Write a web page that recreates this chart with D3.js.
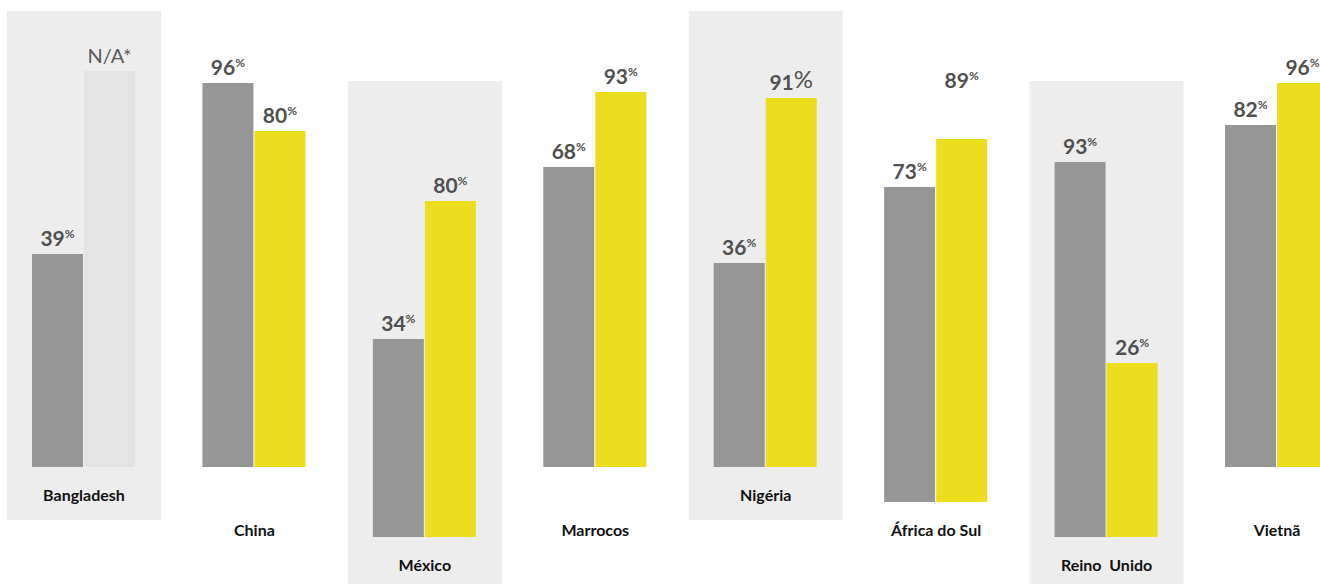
<!DOCTYPE html>
<html>
<head>
<meta charset="utf-8">
<script src="https://cdn.jsdelivr.net/npm/d3@7"></script>
<style>
  body { margin: 0; background: #fff; }
  text { font-family: Lato, "Open Sans", sans-serif; }
</style>
</head>
<body>
<div id="chart"></div>
<script>
// Data
const countries = ["Bangladesh", "China", "México", "Marrocos", "Nigéria", "África do Sul", "Reino  Unido", "Vietnã"];
const grayValues = [39, 96, 34, 68, 36, 73, 93, 82];
const yellowValues = [null, 80, 80, 93, 91, 89, 26, 96];
const naLabel = "N/A*";

// Layout per group (staggered rows)
const barRow = [0, 0, 2, 0, 0, 1, 2, 0];
const labelRow = [0, 1, 2, 1, 0, 1, 2, 1];
const panelGroup = [true, false, true, false, true, false, true, false];

const width = 1320;
const height = 584;
const baseY = 467;
const rowStep = 35;

const svg = d3.select("#chart")
    .append("svg")
    .attr("width", width)
    .attr("height", height);

// Group positions
const x = d3.scalePoint()
    .domain(countries)
    .range([32, 1225]);

const xInner = d3.scaleBand()
    .domain(["gray", "yellow"])
    .range([0, 103])
    .paddingInner(0.02);

// Bar height: axis starts below zero
const h = d3.scaleLinear()
    .domain([-32, 100])
    .range([0, 396]);

const groups = countries.map((c, i) => ({
    country: c,
    gray: grayValues[i],
    yellow: yellowValues[i],
    base: baseY + barRow[i] * rowStep,
    labelY: baseY + 34 + labelRow[i] * rowStep,
    panel: panelGroup[i]
}));

// Background panels
svg.selectAll("rect.panel")
    .data(groups.filter(d => d.panel))
    .join("rect")
    .attr("class", "panel")
    .attr("x", d => x(d.country) - 25)
    .attr("y", d => d.base - 456)
    .attr("width", 154)
    .attr("height", 509)
    .attr("fill", "#ededed");

const g = svg.selectAll("g.group")
    .data(groups)
    .join("g")
    .attr("class", "group")
    .attr("transform", d => `translate(${x(d.country)},0)`);

// Gray bars
g.append("rect")
    .attr("x", xInner("gray"))
    .attr("y", d => d.base - h(d.gray))
    .attr("width", xInner.bandwidth())
    .attr("height", d => h(d.gray))
    .attr("fill", "#969696");

// Yellow bars (N/A shown as a full light bar)
g.append("rect")
    .attr("x", xInner("yellow"))
    .attr("y", d => d.base - h(d.yellow == null ? 100 : d.yellow))
    .attr("width", xInner.bandwidth())
    .attr("height", d => h(d.yellow == null ? 100 : d.yellow))
    .attr("fill", d => d.yellow == null ? "#e3e3e3" : "#ecdd1e");

// Value labels
function valueLabel(sel, key, lift, bigPct) {
    const t = sel.append("text")
        .attr("x", xInner(key) + xInner.bandwidth() / 2)
        .attr("y", (d, i) => d.base - h(d[key]) - 8 - lift(d, i))
        .attr("text-anchor", "middle")
        .attr("fill", "#505050")
        .attr("font-weight", 700)
        .attr("font-size", 21);
    t.append("tspan").text(d => d[key]);
    t.append("tspan")
        .attr("font-size", (d, i) => bigPct(d, i) ? 24 : 12)
        .attr("dy", (d, i) => bigPct(d, i) ? -2 : -8)
        .attr("font-weight", (d, i) => bigPct(d, i) ? 400 : 700)
        .text("%");
}

valueLabel(g, "gray", () => 0, () => false);
valueLabel(g.filter(d => d.yellow != null), "yellow",
    d => d.country === "África do Sul" ? 43 : 0,
    d => d.country === "Nigéria");

// N/A label
g.filter(d => d.yellow == null)
    .append("text")
    .attr("x", xInner("yellow") + xInner.bandwidth() / 2)
    .attr("y", d => d.base - h(100) - 8)
    .attr("text-anchor", "middle")
    .attr("fill", "#595959")
    .attr("font-size", 20)
    .text(naLabel);

// Country labels
g.append("text")
    .attr("x", 52)
    .attr("y", d => d.labelY)
    .attr("text-anchor", "middle")
    .attr("font-weight", 700)
    .attr("font-size", 16)
    .attr("fill", "#111")
    .attr("xml:space", "preserve")
    .style("white-space", "pre")
    .text(d => d.country);
</script>
</body>
</html>
